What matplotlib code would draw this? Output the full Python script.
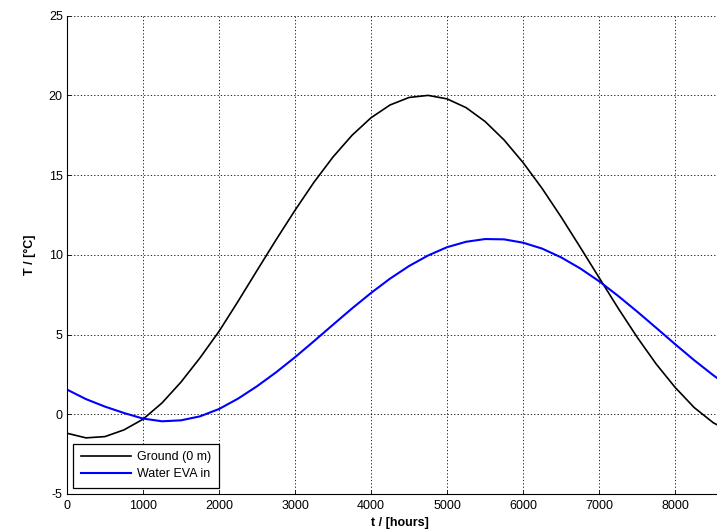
import numpy as np
import matplotlib
matplotlib.use("Agg")
import matplotlib.pyplot as plt

plt.rcParams['font.family'] = ['Liberation Sans', 'DejaVu Sans']
plt.rcParams['axes.unicode_minus'] = False

# time in hours over one year
t_hours = [0, 250, 500, 750, 1000, 1250, 1500, 1750, 2000, 2250, 2500, 2750,
           3000, 3250, 3500, 3750, 4000, 4250, 4500, 4750, 5000, 5250, 5500,
           5750, 6000, 6250, 6500, 6750, 7000, 7250, 7500, 7750, 8000, 8250,
           8500, 8760]

ground = [-1.19, -1.48, -1.40, -0.98, -0.31, 0.71, 2.02, 3.54, 5.2, 7.08,
          9.02, 10.94, 12.8, 14.56, 16.14, 17.5, 18.6, 19.4, 19.87, 20.0,
          19.78, 19.23, 18.36, 17.2, 15.78, 14.16, 12.37, 10.48, 8.56, 6.65,
          4.83, 3.15, 1.68, 0.42, -0.53, -1.19]

water = [1.55, 0.95, 0.48, 0.08, -0.27, -0.44, -0.38, -0.13, 0.33, 0.98,
         1.76, 2.63, 3.58, 4.59, 5.62, 6.64, 7.61, 8.51, 9.3, 9.96, 10.48,
         10.82, 10.99, 10.97, 10.76, 10.39, 9.84, 9.15, 8.34, 7.42, 6.44,
         5.42, 4.39, 3.39, 2.45, 1.55]

series_names = ['Ground (0 m)', 'Water EVA in']
xticks = [0, 1000, 2000, 3000, 4000, 5000, 6000, 7000, 8000]
yticks = [-5, 0, 5, 10, 15, 20, 25]

fig = plt.figure(figsize=(7.17, 5.31), dpi=100)
ax = fig.add_axes([0.0934, 0.0697, 0.9289, 0.9008])

ax.plot(t_hours, ground, color='black', lw=1.2, label=series_names[0])
ax.plot(t_hours, water, color=(0, 0, 1), lw=1.5, label=series_names[1])

ax.set_xlim(0, 8760)
ax.set_ylim(-5, 25)
ax.set_xticks(xticks)
ax.set_yticks(yticks)
ax.tick_params(direction='in', length=3, width=0.6, labelsize=9, colors='black')
ax.tick_params(axis='x', pad=4)
ax.tick_params(axis='y', pad=3)

ax.grid(True, color='black', linestyle=(0, (1.5, 2.5)), lw=0.6)
for side in ['top', 'right']:
    ax.spines[side].set_visible(False)
for side in ['left', 'bottom']:
    ax.spines[side].set_linewidth(0.8)

ax.set_xlabel('t / [hours]', fontsize=9, fontweight='bold', labelpad=4)
ax.set_ylabel('T / [°C]', fontsize=9, fontweight='bold', labelpad=9)

leg = ax.legend(loc='lower left', fontsize=9, fancybox=False, framealpha=1,
                edgecolor='black', handlelength=4.0, handletextpad=0.5,
                borderpad=0.6, labelspacing=0.4, borderaxespad=0.5)
leg.get_frame().set_linewidth(0.9)

fig.savefig('out.png', dpi=100)
